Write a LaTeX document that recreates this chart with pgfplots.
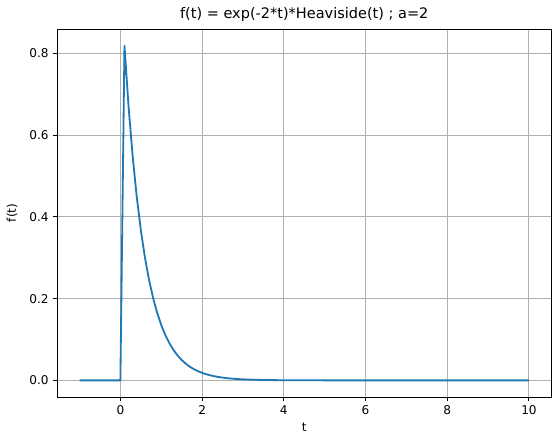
\documentclass[border=0pt]{standalone}
\usepackage{pgfplots}
\pgfplotsset{compat=1.18}
\usepackage{fontspec}
\setmainfont{DejaVu Sans}
\definecolor{mplblue}{HTML}{1F77B4}
\definecolor{gridgray}{HTML}{B0B0B0}
\begin{document}
\begin{tikzpicture}
\begin{axis}[
  scale only axis,
  width=409pt, height=304.5pt,
  at={(0,0)}, anchor=south west,
  xmin=-1.55, xmax=10.55,
  ymin=-0.04094, ymax=0.85964,
  xtick={0,2,4,6,8,10},
  ytick={0,0.2,0.4,0.6,0.8},
  yticklabel style={/pgf/number format/.cd,fixed,fixed zerofill,precision=1},
  /pgf/number format/assume math mode=true,
  tick label style={font=\fontsize{10}{12}\selectfont},
  tick align=outside,
  major tick length=3.5pt,
  tick style={black, line width=0.8pt},
  xtick pos=bottom, ytick pos=left,
  grid=major,
  grid style={gridgray, line width=0.8pt},
  axis line style={line width=0.8pt},
  xlabel={t}, ylabel={f(t)},
  label style={font=\fontsize{10}{12}\selectfont},
  ylabel style={yshift=3pt},
  title={f(t) = exp(-2*t)*Heaviside(t) ; a=2},
  title style={font=\fontsize{12}{14}\selectfont, yshift=-3pt},
]
\addplot[mplblue, line width=1.5pt, line join=round] coordinates {
(-1,0) (-0.5,0) (0,0)
(0.1,0.8187) (0.2,0.6703) (0.3,0.5488) (0.4,0.4493) (0.5,0.3679)
(0.6,0.3012) (0.7,0.2466) (0.8,0.2019) (0.9,0.1653) (1.0,0.1353)
(1.1,0.1108) (1.2,0.0907) (1.3,0.0743) (1.4,0.0608) (1.5,0.0498)
(1.6,0.0408) (1.7,0.0334) (1.8,0.0273) (1.9,0.0224) (2.0,0.0183)
(2.1,0.0150) (2.2,0.0123) (2.3,0.0101) (2.4,0.0082) (2.5,0.0067)
(2.6,0.0055) (2.7,0.0045) (2.8,0.0037) (2.9,0.0030) (3.0,0.0025)
(3.1,0.0020) (3.2,0.0017) (3.3,0.0014) (3.4,0.0011) (3.5,0.0009)
(3.6,0.0007) (3.7,0.0006) (3.8,0.0005) (3.9,0.0004) (4.0,0.0003)
(4.5,0.0001) (5,0) (6,0) (7,0) (8,0) (9,0) (10,0)
};
\end{axis}
\useasboundingbox (-47.2pt,-38.1pt) rectangle (413.6pt,328.5pt);
\end{tikzpicture}
\end{document}
